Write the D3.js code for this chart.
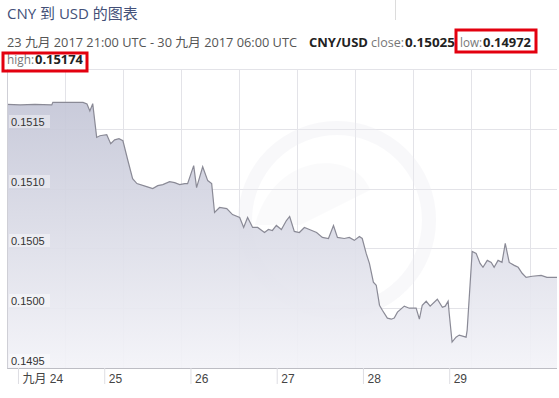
<!DOCTYPE html>
<html>
<head>
<meta charset="utf-8">
<script src="https://cdn.jsdelivr.net/npm/d3@7"></script>
<style>
  body { margin: 0; background: #fff; }
  svg { display: block; font-family: "Open Sans", "Noto Sans CJK SC", sans-serif; }
</style>
</head>
<body>
<svg id="chart" width="559" height="398"></svg>
<script>
// hours since 23 Sep 2017 21:00 UTC
const hours = [
  0, 3.6, 7.7, 12.4, 12.7, 21.1, 22.2, 23.0, 23.8, 24.9, 25.8, 27.7, 28.8, 29.9, 31.1, 32.2,
  33.6, 34.9, 36.1, 38.8, 40.5, 41.9, 43.3, 45.2, 46.6, 48.0, 49.4, 50.2, 51.9, 52.7, 54.4,
  55.8, 56.9, 57.7, 59.1, 61.1, 62.7, 64.7, 65.8, 66.9, 68.3, 69.7, 71.6, 72.7, 73.8, 74.9,
  76.3, 77.7, 78.6, 79.9, 81.3, 82.7, 84.1, 86.1, 87.7, 89.4, 90.8, 91.9, 93.8, 95.2, 96.6,
  98.0, 98.8, 99.9, 100.8, 101.9, 102.7, 103.6, 104.4, 105.8, 106.9, 107.7, 108.6, 110.5,
  111.9, 113.8, 114.7, 115.5, 116.6, 117.7, 119.7, 121.1, 121.9, 122.7, 123.0, 123.8, 124.9,
  125.8, 127.7, 128.0, 129.4, 130.5, 131.6, 132.4, 133.6, 134.7, 135.5, 136.6, 137.7, 138.6,
  139.7, 141.1, 142.2, 143.3, 144.4, 146.1, 148.6, 150.2, 153.0
];
const rates = [
  0.151704, 0.151700, 0.151704, 0.151700, 0.151722, 0.151721, 0.151708, 0.151650, 0.151710,
  0.151428, 0.151442, 0.151450, 0.151375, 0.151408, 0.151417, 0.151400,
  0.151233, 0.151083, 0.151042, 0.151017, 0.151000, 0.151025, 0.151033, 0.151058, 0.151050,
  0.151033, 0.151042, 0.151042, 0.151192, 0.151008, 0.151183,
  0.151067, 0.151042, 0.150800, 0.150842, 0.150833, 0.150783, 0.150758, 0.150675, 0.150758,
  0.150675, 0.150675, 0.150633, 0.150658, 0.150650, 0.150692,
  0.150658, 0.150733, 0.150767, 0.150642, 0.150633, 0.150675, 0.150658, 0.150633, 0.150592,
  0.150583, 0.150692, 0.150592, 0.150583, 0.150592, 0.150567,
  0.150600, 0.150583, 0.150458, 0.150375, 0.150217, 0.150192, 0.150025, 0.149983, 0.149917,
  0.149908, 0.149917, 0.149967, 0.150017,
  0.150000, 0.150000, 0.149908, 0.150025, 0.150058, 0.150017, 0.150075, 0.150008, 0.150017,
  0.150058, 0.149958, 0.149717, 0.149758,
  0.149775, 0.149758, 0.149817, 0.150475, 0.150458, 0.150375, 0.150342, 0.150400, 0.150383,
  0.150342, 0.150400, 0.150383, 0.150542,
  0.150383, 0.150358, 0.150342, 0.150292, 0.150258, 0.150267, 0.150275, 0.150258, 0.150258
];
const yTicks = [0.1495, 0.1500, 0.1505, 0.1510, 0.1515];
const dayTicks = ['2017-09-24', '2017-09-25', '2017-09-26', '2017-09-27', '2017-09-28', '2017-09-29'];
const dayLabels = ['九月 24', '25', '26', '27', '28', '29'];
const gridHours = [0, 16.15, 32.3, 48.45, 64.6, 80.75, 96.9, 113.05, 129.2, 145.35];

const title = 'CNY 到 USD 的图表';
const period = '23 九月 2017 21:00 UTC - 30 九月 2017 06:00 UTC';
const pair = 'CNY/USD';
const stats = { close: '0.15025', low: '0.14972', high: '0.15174' };

const start = Date.UTC(2017, 8, 23, 21);
const toDate = (h) => new Date(start + h * 3600e3);
const data = hours.map((h, i) => ({ t: toDate(h), v: rates[i] }));

const svg = d3.select('#chart');
const plotLeft = 7.2;
const plotRight = 557;
const plotTop = 69;
const plotBottom = 368;

const x = d3.scaleUtc().domain([toDate(0), toDate(153)]).range([plotLeft, plotRight]);
const y = d3.scaleLinear().domain([0.1495, 0.152]).range([plotBottom, plotTop]);

// header
svg.append('text').attr('x', 7).attr('y', 19)
  .attr('font-size', 15).attr('fill', '#435078').text(title);
svg.append('line').attr('x1', 395.5).attr('x2', 395.5).attr('y1', 0).attr('y2', 20)
  .attr('stroke', '#dcdcdc');

const info = [
  { s: period, x: 7, y: 47, len: 290, w: 'normal', c: '#555' },
  { s: pair, x: 309, y: 47, len: 59, w: 'bold', c: '#222' },
  { s: 'close:', x: 371, y: 47, len: 33, w: 'normal', c: '#777' },
  { s: stats.close, x: 405, y: 47, len: 50, w: 'bold', c: '#222' },
  { s: 'low:', x: 460, y: 47, len: 22, w: 'normal', c: '#777' },
  { s: stats.low, x: 483, y: 47, len: 48, w: 'bold', c: '#222' },
  { s: 'high:', x: 7, y: 64, len: 27, w: 'normal', c: '#777' },
  { s: stats.high, x: 35, y: 64, len: 48, w: 'bold', c: '#222' },
];
svg.selectAll('text.info').data(info).enter().append('text')
  .attr('class', 'info')
  .attr('x', (d) => d.x).attr('y', (d) => d.y)
  .attr('font-size', 12).attr('font-weight', (d) => d.w).attr('fill', (d) => d.c)
  .attr('textLength', (d) => d.len).attr('lengthAdjust', 'spacingAndGlyphs')
  .text((d) => d.s);

// gradient
const defs = svg.append('defs');
const grad = defs.append('linearGradient').attr('id', 'fill')
  .attr('gradientUnits', 'userSpaceOnUse')
  .attr('x1', 0).attr('x2', 0).attr('y1', 95).attr('y2', plotBottom);
grad.append('stop').attr('offset', 0).attr('stop-color', '#c3c5d6');
grad.append('stop').attr('offset', 1).attr('stop-color', '#f3f3f8');

// grid
const g = svg.append('g');
g.selectAll('line.hg').data(yTicks.concat([0.152])).enter().append('line')
  .attr('x1', plotLeft).attr('x2', plotRight)
  .attr('y1', (d) => Math.round(y(d)) + 0.5).attr('y2', (d) => Math.round(y(d)) + 0.5)
  .attr('stroke', '#e3e3e8');
g.selectAll('line.vg').data(gridHours).enter().append('line')
  .attr('x1', (d) => Math.round(x(toDate(d))) + 0.5).attr('x2', (d) => Math.round(x(toDate(d))) + 0.5)
  .attr('y1', plotTop).attr('y2', plotBottom)
  .attr('stroke', '#e3e3e8');

// faint watermark
const wm = svg.append('g').attr('opacity', 0.35);
wm.append('circle').attr('cx', 337).attr('cy', 220).attr('r', 92)
  .attr('fill', 'none').attr('stroke', '#ececf2').attr('stroke-width', 14);
wm.append('path').attr('d', 'M255,225 C275,150 355,150 370,190 L300,225 Z')
  .attr('fill', '#e8e9ef').attr('opacity', 0.6);

// area + line
const area = d3.area().x((d) => x(d.t)).y0(plotBottom).y1((d) => y(d.v));
const line = d3.line().x((d) => x(d.t)).y((d) => y(d.v));
svg.append('path').datum(data).attr('d', area).attr('fill', 'url(#fill)').attr('opacity', 0.92);
svg.append('path').datum(data).attr('d', line)
  .attr('fill', 'none').attr('stroke', '#8a8a96').attr('stroke-width', 1.2);

// left border
svg.append('line').attr('x1', plotLeft + 0.3).attr('x2', plotLeft + 0.3)
  .attr('y1', plotTop).attr('y2', plotBottom)
  .attr('stroke', '#cfcfd6');

// x axis
const xAxis = d3.axisBottom(x)
  .tickValues(dayTicks.map((d) => new Date(d + 'T00:00:00Z')))
  .tickSize(16)
  .tickFormat((d, i) => dayLabels[i]);
const ax = svg.append('g').attr('transform', `translate(0,${plotBottom})`).call(xAxis);
ax.select('.domain').attr('stroke', '#bdbdc4').attr('d', `M${plotLeft},0.5H${plotRight}`);
ax.selectAll('.tick line').attr('stroke', '#dedee3');
ax.selectAll('.tick text')
  .attr('text-anchor', 'start').attr('x', 4).attr('y', 6).attr('dy', '0.71em')
  .attr('font-size', 12).attr('fill', '#444')
  .attr('font-family', 'Liberation Sans, "Noto Sans CJK SC", sans-serif');

// y labels inside plot
const yl = svg.append('g');
yTicks.forEach((v) => {
  const yy = Math.round(y(v));
  yl.append('rect').attr('x', 9).attr('y', yy - 14).attr('width', 41).attr('height', 13)
    .attr('fill', '#fff').attr('opacity', 0.4);
  yl.append('text').attr('x', 11).attr('y', yy - 3)
    .attr('font-size', 11).attr('fill', '#333')
    .attr('font-family', 'Liberation Sans, sans-serif')
    .text(d3.format('.4f')(v));
});

// red highlight boxes
const boxes = [
  { x: 456, y: 30, w: 80, h: 22 },
  { x: 3, y: 53, w: 84, h: 18 },
];
svg.selectAll('rect.hl').data(boxes).enter().append('rect')
  .attr('x', (d) => d.x).attr('y', (d) => d.y).attr('width', (d) => d.w).attr('height', (d) => d.h)
  .attr('fill', 'none').attr('stroke', '#e3000f').attr('stroke-width', 3);
</script>
</body>
</html>
